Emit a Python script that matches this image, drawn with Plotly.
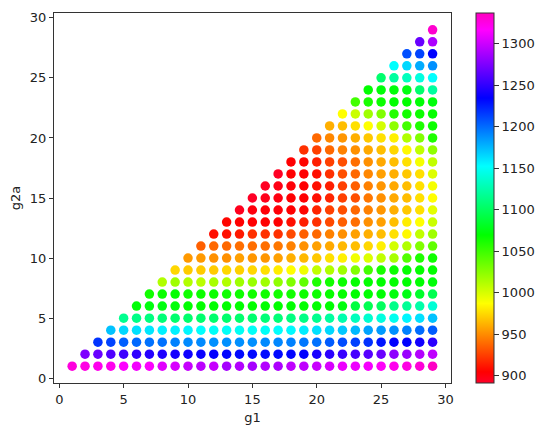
import plotly.graph_objects as go

# values, one list per g2a row, each starting at g1 = g2a
row_01 = [1327, 1325, 1322, 1322, 1316, 1313, 1316, 1307, 1304, 1298, 1295, 1298, 1288, 1292, 1288, 1292, 1290, 1296, 1296, 1299, 1304, 1311, 1311, 1314, 1318, 1322, 1325, 1329, 1335]
row_02 = [1275, 1268, 1260, 1254, 1250, 1246, 1244, 1241, 1239, 1237, 1235, 1233, 1232, 1232, 1231, 1232, 1233, 1234, 1242, 1248, 1252, 1257, 1262, 1268, 1280, 1284, 1292, 1296]
row_03 = [1218, 1213, 1204, 1201, 1198, 1198, 1193, 1190, 1190, 1188, 1188, 1188, 1188, 1190, 1191, 1193, 1196, 1198, 1205, 1210, 1214, 1219, 1228, 1234, 1234, 1240, 1248]
row_04 = [1172, 1165, 1162, 1160, 1157, 1157, 1155, 1152, 1150, 1150, 1149, 1150, 1150, 1152, 1154, 1158, 1162, 1165, 1170, 1175, 1182, 1185, 1188, 1193, 1200, 1205]
row_05 = [1116, 1113, 1111, 1108, 1105, 1105, 1105, 1105, 1105, 1105, 1105, 1108, 1108, 1111, 1113, 1116, 1121, 1126, 1131, 1137, 1142, 1147, 1155, 1162, 1172]
row_06 = [1072, 1074, 1074, 1072, 1070, 1069, 1069, 1069, 1069, 1069, 1069, 1069, 1069, 1069, 1069, 1070, 1074, 1090, 1096, 1100, 1114, 1118, 1124, 1139]
row_07 = [1064, 1066, 1068, 1065, 1066, 1066, 1065, 1065, 1064, 1064, 1064, 1064, 1065, 1066, 1067, 1068, 1069, 1070, 1071, 1073, 1076, 1083, 1095]
row_08 = [1012, 1018, 1012, 1009, 1015, 1012, 1018, 1020, 1018, 1023, 1028, 1038, 1060, 1064, 1066, 1068, 1069, 1069, 1069, 1070, 1070, 1072]
row_09 = [974, 970, 970, 970, 974, 972, 974, 977, 981, 987, 992, 1007, 1012, 1018, 1028, 1048, 1062, 1066, 1068, 1068, 1069]
row_10 = [954, 954, 951, 951, 956, 953, 953, 956, 961, 964, 969, 977, 982, 991, 998, 1007, 1015, 1043, 1060, 1065]
row_11 = [935, 938, 938, 940, 940, 940, 943, 946, 951, 956, 959, 964, 966, 974, 982, 1001, 1012, 1028, 1038]
row_12 = [909, 910, 912, 920, 920, 920, 928, 935, 938, 946, 951, 956, 961, 966, 977, 985, 1007, 1018]
row_13 = [906, 904, 904, 904, 904, 909, 914, 920, 928, 935, 940, 951, 956, 966, 981, 987, 1004]
row_14 = [895, 900, 902, 902, 904, 906, 916, 925, 930, 938, 946, 953, 961, 969, 977, 996]
row_15 = [892, 896, 899, 904, 904, 909, 916, 925, 930, 943, 951, 959, 966, 977, 987]
row_16 = [893, 898, 902, 904, 909, 914, 925, 935, 946, 953, 959, 966, 977, 990]
row_17 = [893, 904, 904, 909, 920, 930, 938, 948, 956, 961, 969, 977, 998]
row_18 = [904, 906, 914, 925, 930, 940, 951, 959, 966, 977, 990, 1007]
row_19 = [920, 925, 938, 946, 951, 959, 966, 974, 985, 1007, 1023]
row_20 = [938, 948, 953, 961, 969, 977, 982, 1012, 1028, 1060]
row_21 = [961, 966, 977, 987, 1001, 1023, 1048, 1060, 1066]
row_22 = [987, 1004, 1018, 1028, 1058, 1064, 1066, 1068]
row_23 = [1048, 1062, 1066, 1069, 1069, 1071, 1073]
row_24 = [1069, 1072, 1072, 1075, 1105, 1121]
row_25 = [1105, 1121, 1131, 1142, 1152]
row_26 = [1152, 1165, 1179, 1188]
row_27 = [1209, 1213, 1234]
row_28 = [1268, 1290]
row_29 = [1332]

rows = [row_01, row_02, row_03, row_04, row_05, row_06, row_07, row_08, row_09, row_10,
        row_11, row_12, row_13, row_14, row_15, row_16, row_17, row_18, row_19, row_20,
        row_21, row_22, row_23, row_24, row_25, row_26, row_27, row_28, row_29]

cbar_ticks = [900, 950, 1000, 1050, 1100, 1150, 1200, 1250, 1300]

# gist_rainbow
rainbow = [
    [0.0, "rgb(255,0,41)"],
    [0.03, "rgb(255,0,0)"],
    [0.215, "rgb(255,255,0)"],
    [0.4, "rgb(0,255,0)"],
    [0.586, "rgb(0,255,255)"],
    [0.77, "rgb(0,0,255)"],
    [0.954, "rgb(255,0,255)"],
    [1.0, "rgb(255,0,191)"],
]

g1, g2a, val = [], [], []
for i, row in enumerate(rows):
    for j, v in enumerate(row):
        g2a.append(i + 1)
        g1.append(i + 1 + j)
        val.append(v)

font = dict(family="DejaVu Sans", size=13, color="#222222")

fig = go.Figure(go.Scatter(
    x=g1, y=g2a, mode="markers",
    marker=dict(
        size=9.5, color=val, colorscale=rainbow, cmin=891, cmax=1337,
        colorbar=dict(
            xref="container", x=467.5 / 542, xanchor="left",
            yref="paper", y=0.5, yanchor="middle",
            lenmode="fraction", len=1, thickness=18, thicknessmode="pixels",
            outlinewidth=1, outlinecolor="#333333",
            ticks="outside", ticklen=5, tickcolor="#333333",
            tickvals=cbar_ticks, tickfont=font, xpad=0, ypad=0,
        ),
    ),
))

axis = dict(
    showgrid=False, zeroline=False, showline=True, mirror=True,
    linecolor="#333333", linewidth=1, ticks="outside", ticklen=4,
    tickcolor="#333333", tick0=0, dtick=5, tickfont=font,
)
fig.update_xaxes(axis, range=[-0.41, 30.43], title=dict(text="g1", font=font, standoff=7))
fig.update_yaxes(axis, range=[-0.4, 30.4], title=dict(text="g2a", font=font, standoff=11))
fig.update_layout(
    width=542, height=430, plot_bgcolor="white", paper_bgcolor="white",
    margin=dict(l=46, r=99, t=5, b=55, autoexpand=False), showlegend=False,
)

fig.write_html("out.html")
